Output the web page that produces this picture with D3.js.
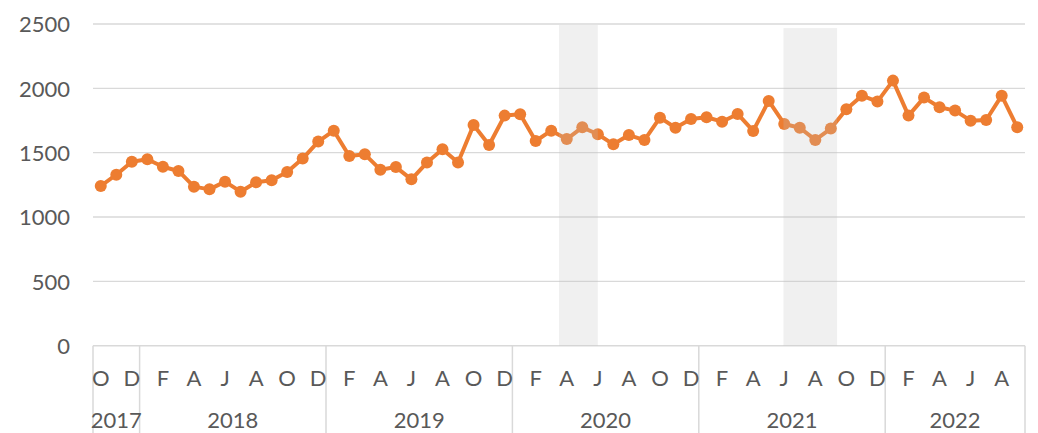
<!DOCTYPE html>
<html>
<head>
<meta charset="utf-8">
<script src="https://cdn.jsdelivr.net/npm/d3@7"></script>
<style>
  html, body { margin: 0; padding: 0; background: #fff; }
  svg { display: block; }
  text { font-family: Lato, "Open Sans", sans-serif; fill: #595959; }
</style>
</head>
<body>
<svg id="chart" width="1038" height="433"></svg>
<script>
// ---- data ----
const categories = [
  "2017-10","2017-11","2017-12",
  "2018-01","2018-02","2018-03","2018-04","2018-05","2018-06","2018-07","2018-08","2018-09","2018-10","2018-11","2018-12",
  "2019-01","2019-02","2019-03","2019-04","2019-05","2019-06","2019-07","2019-08","2019-09","2019-10","2019-11","2019-12",
  "2020-01","2020-02","2020-03","2020-04","2020-05","2020-06","2020-07","2020-08","2020-09","2020-10","2020-11","2020-12",
  "2021-01","2021-02","2021-03","2021-04","2021-05","2021-06","2021-07","2021-08","2021-09","2021-10","2021-11","2021-12",
  "2022-01","2022-02","2022-03","2022-04","2022-05","2022-06","2022-07","2022-08","2022-09"
];
const values = [
  1241, 1329, 1430,
  1449, 1391, 1358, 1236, 1215, 1275, 1197, 1270, 1285, 1350, 1454, 1586,
  1671, 1474, 1487, 1368, 1388, 1293, 1423, 1526, 1423, 1715, 1560, 1788,
  1798, 1591, 1671, 1606, 1697, 1643, 1565, 1637, 1598, 1772, 1694, 1761,
  1775, 1741, 1801, 1669, 1902, 1723, 1694, 1599, 1687, 1837, 1943, 1897,
  2060, 1788, 1928, 1853, 1827, 1749, 1754, 1943, 1697
];
const monthInitials = ["J","F","M","A","M","J","J","A","S","O","N","D"];
const years = ["2017","2018","2019","2020","2021","2022"];
const yTicks = [0, 500, 1000, 1500, 2000, 2500];
// shaded periods: start/end in category units, height in value units
const shadeStart = [30, 44.45];
const shadeEnd = [32.5, 47.9];
const shadeTop = [2492, 2468];

// ---- layout ----
const W = 1038, H = 433;
const mLeft = 93, mRight = 1025, mTop = 24, mBottom = 345.7;
const FS = 22;
const svg = d3.select("#chart");

const x = d3.scaleBand().domain(d3.range(categories.length)).range([mLeft, mRight]).padding(0);
const xc = i => x(i) + x.bandwidth() / 2;
const xLin = d3.scaleLinear().domain([0, categories.length]).range([mLeft, mRight]);
const y = d3.scaleLinear().domain([0, 2500]).range([mBottom, mTop]);

// gridlines
svg.append("g").selectAll("line").data(yTicks.filter(d => d > 0)).join("line")
  .attr("x1", mLeft).attr("x2", mRight)
  .attr("y1", d => y(d)).attr("y2", d => y(d))
  .attr("stroke", "#d9d9d9").attr("stroke-width", 1.3);

// y axis labels
const yAxis = d3.axisLeft(y).tickValues(yTicks).tickFormat(d3.format("d")).tickSize(0).tickPadding(0);
const gy = svg.append("g").attr("transform", `translate(70,0)`).call(yAxis);
gy.select(".domain").remove();
gy.selectAll("text").attr("font-size", FS).style("font-family", "Lato, 'Open Sans', sans-serif").attr("fill", "#595959").attr("dy", "0.36em");

// x axis base line
svg.append("line").attr("x1", mLeft).attr("x2", mRight).attr("y1", mBottom).attr("y2", mBottom)
  .attr("stroke", "#d9d9d9").attr("stroke-width", 1.5);

// year boundaries
const yearIdx = years.map(yr => categories.findIndex(c => c.startsWith(yr)));
const boundaries = yearIdx.concat([categories.length]);
svg.append("g").selectAll("line").data(boundaries).join("line")
  .attr("x1", d => xLin(d)).attr("x2", d => xLin(d))
  .attr("y1", mBottom).attr("y2", H)
  .attr("stroke", "#d9d9d9").attr("stroke-width", 1.5);

// month labels (every other month)
const monthLabelIdx = d3.range(0, categories.length, 2);
svg.append("g").selectAll("text").data(monthLabelIdx).join("text")
  .attr("x", d => xc(d)).attr("y", 386)
  .attr("text-anchor", "middle").attr("font-size", FS)
  .text(d => monthInitials[+categories[d].slice(5) - 1]);

// year labels
svg.append("g").selectAll("text").data(years).join("text")
  .attr("x", (d, i) => (xLin(boundaries[i]) + xLin(boundaries[i + 1])) / 2)
  .attr("y", 428)
  .attr("text-anchor", "middle").attr("font-size", FS)
  .text(d => d);

// line
const orange = "#ED7D31";
svg.append("path").datum(values)
  .attr("fill", "none").attr("stroke", orange).attr("stroke-width", 4)
  .attr("stroke-linejoin", "round")
  .attr("d", d3.line().x((d, i) => xc(i)).y(d => y(d)));

svg.append("g").selectAll("circle").data(values).join("circle")
  .attr("cx", (d, i) => xc(i)).attr("cy", d => y(d)).attr("r", 6)
  .attr("fill", orange);

// shaded periods (drawn on top, semi-transparent)
svg.append("g").selectAll("rect").data(shadeStart).join("rect")
  .attr("x", (d, i) => xLin(d))
  .attr("width", (d, i) => xLin(shadeEnd[i]) - xLin(d))
  .attr("y", (d, i) => y(shadeTop[i]))
  .attr("height", (d, i) => y(0) - y(shadeTop[i]))
  .attr("fill", "#bfbfbf").attr("fill-opacity", 0.24);
</script>
</body>
</html>
